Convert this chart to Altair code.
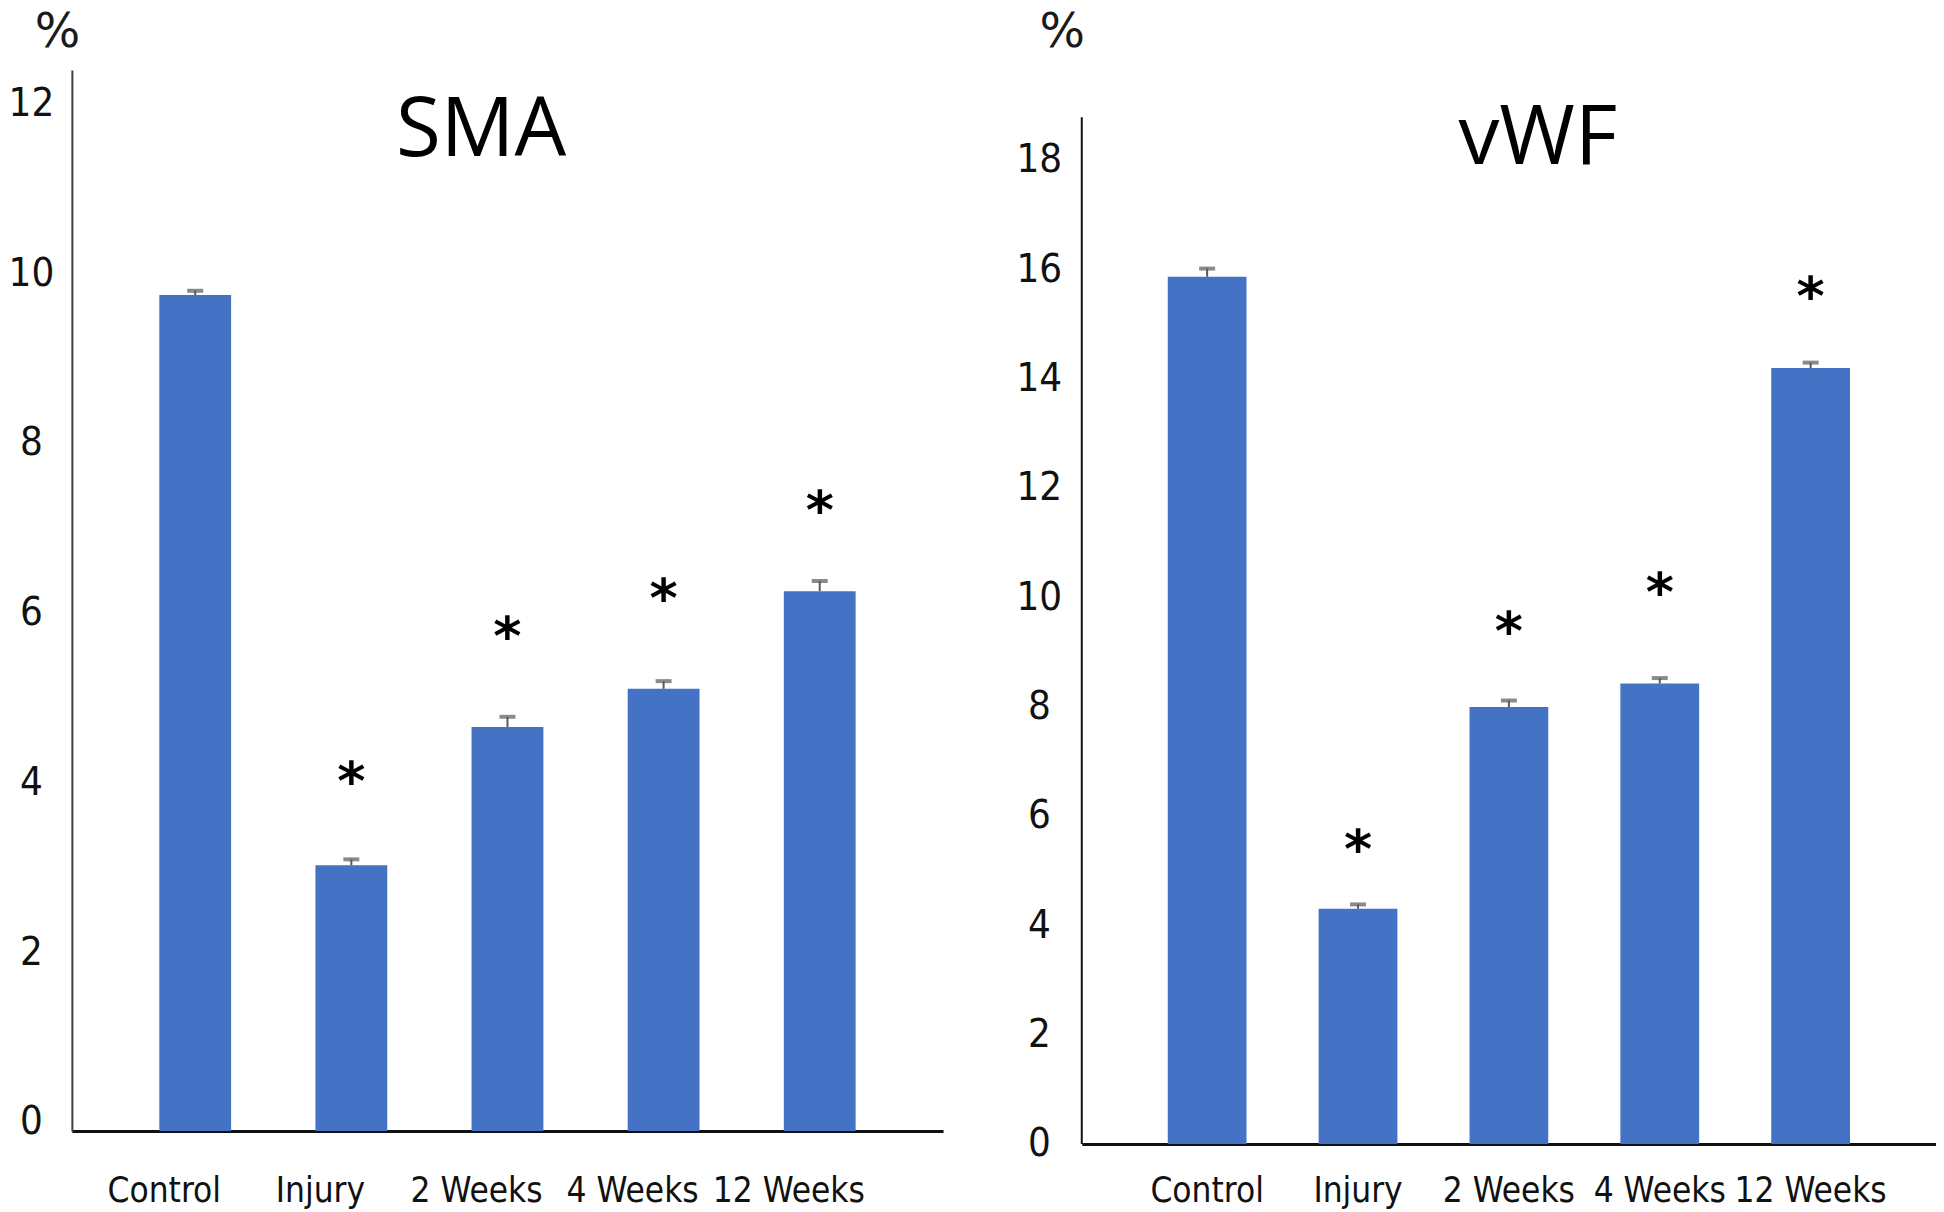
import altair as alt
import pandas as pd

categories = ["Control", "Injury", "2 Weeks", "4 Weeks", "12 Weeks"]

sma_values = [9.85, 3.13, 4.76, 5.21, 6.36]
sma_errors = [0.05, 0.07, 0.12, 0.09, 0.12]
sma_stars = [None, 4.25, 5.96, 6.41, 7.45]
sma_ticks = [0, 2, 4, 6, 8, 10, 12]

vwf_values = [15.86, 4.30, 7.99, 8.42, 14.19]
vwf_errors = [0.15, 0.08, 0.12, 0.10, 0.10]
vwf_stars = [None, 5.59, 9.59, 10.29, 15.70]
vwf_ticks = [0, 2, 4, 6, 8, 10, 12, 14, 16, 18]

LABEL_FONT = "DejaVu Sans Condensed, Roboto, sans-serif"
TITLE_FONT = "Open Sans"
PCT_FONT = "DejaVu Sans"
BAR = "#4472C4"
ERR = "#595959"


def panel(title, values, errors, stars, ticks, ymax, axis_top, width, height,
          p_inner, p_outer, xlab_offset, xlab_pad, ylab_offset, ylab_pad,
          title_x, title_y, pct_x, draw_axis_rule):
    df = pd.DataFrame({
        "cat": categories,
        "v": values,
        "hi": [v + e for v, e in zip(values, errors)],
        "star": stars,
    })
    x = alt.X("cat:N", sort=categories, title=None,
              scale=alt.Scale(paddingInner=p_inner, paddingOuter=p_outer),
              axis=alt.Axis(labelAngle=0, labelFont=LABEL_FONT, labelFontSize=35,
                            labelColor="#111111", labelPadding=xlab_pad, labelLimit=0,
                            labelOffset=xlab_offset, ticks=False, tickSize=0,
                            domainColor="#111111", domainWidth=3))
    yscale = alt.Scale(domain=[0, ymax], nice=False, zero=True)
    y_axis = alt.Axis(values=ticks, title="%", titleAngle=0, titleFont=PCT_FONT,
                      titleFontSize=48, titleFontWeight="normal", titleColor="#1a1a1a",
                      titleX=pct_x, titleY=-24, titleAlign="center",
                      titleBaseline="alphabetic",
                      grid=False, ticks=False, tickSize=0,
                      labelAlign="center", labelBaseline="middle",
                      labelPadding=ylab_pad, labelOffset=ylab_offset,
                      labelFont=LABEL_FONT, labelFontSize=40, labelColor="#111111",
                      domain=not draw_axis_rule, domainColor="#404040", domainWidth=2)

    base = alt.Chart(df)
    bars = base.mark_bar(color=BAR).encode(
        x=x, y=alt.Y("v:Q", scale=yscale, axis=y_axis))
    stems = base.mark_rule(color=ERR, strokeWidth=2).encode(
        x=alt.X("cat:N", sort=categories),
        y=alt.Y("v:Q", axis=y_axis), y2="hi:Q")
    caps = base.mark_tick(color=ERR, thickness=4, size=16).encode(
        x=alt.X("cat:N", sort=categories),
        y=alt.Y("hi:Q", axis=y_axis))
    stars_layer = base.transform_filter("isValid(datum.star)").mark_text(
        text="*", font="DejaVu Sans", fontWeight="bold", fontSize=54,
        baseline="alphabetic", dy=30, color="#000000").encode(
        x=alt.X("cat:N", sort=categories),
        y=alt.Y("star:Q", axis=y_axis))
    title_layer = alt.Chart(pd.DataFrame({"t": [title]})).mark_text(
        font=TITLE_FONT, fontSize=82, baseline="alphabetic", align="center",
        color="#000000").encode(text="t:N", x=alt.value(title_x), y=alt.value(title_y))

    layers = [bars, stems, caps, stars_layer, title_layer]
    if draw_axis_rule:
        axis_df = pd.DataFrame({"a": [0.0], "b": [axis_top]})
        rule = alt.Chart(axis_df).mark_rule(color="#111111", strokeWidth=2).encode(
            x=alt.value(0), y=alt.Y("a:Q", axis=y_axis), y2="b:Q")
        layers.append(rule)
    return alt.layer(*layers).properties(width=width, height=height)


left = panel("SMA", sma_values, sma_errors, sma_stars, sma_ticks,
             ymax=12.5, axis_top=12.5, width=873, height=1063,
             p_inner=0.54, p_outer=0.56, xlab_offset=-31, xlab_pad=43,
             ylab_offset=-9, ylab_pad=41, title_x=410, title_y=86, pct_x=-15,
             draw_axis_rule=False)

right = panel("vWF", vwf_values, vwf_errors, vwf_stars, vwf_ticks,
              ymax=19.64, axis_top=18.78, width=856, height=1076,
              p_inner=0.478, p_outer=0.57, xlab_offset=0, xlab_pad=30,
              ylab_offset=0, ylab_pad=43, title_x=457, title_y=94, pct_x=-20,
              draw_axis_rule=True)

chart = alt.hconcat(left, right, spacing=73).properties(
    padding={"top": -1, "left": 0, "right": 0, "bottom": 0}).configure(
    background="white").configure_view(stroke=None)

chart.save("out.html", embed_options={"renderer": "svg", "actions": False})
